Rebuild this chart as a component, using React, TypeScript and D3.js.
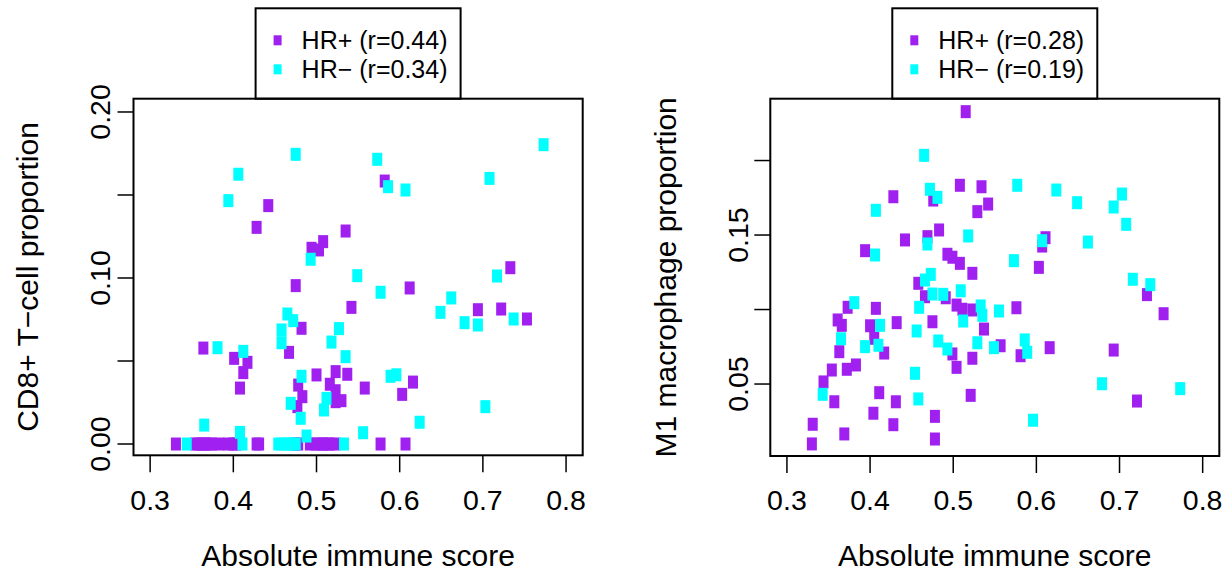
import React from "react";
import * as d3 from "d3";

// ---------- data ----------
const xTicks = [0.3, 0.4, 0.5, 0.6, 0.7, 0.8];

// Left panel: CD8+ T-cell proportion
const cd8PosX = [0.442,0.428,0.508,0.494,0.503,0.475,0.482,0.364,0.467,0.401,0.417,0.412,0.500,0.408,0.478,0.523,0.516,0.523,0.483,0.523,0.477,0.582,0.535,0.733,0.612,0.542,0.694,0.722,0.753,0.537,0.558,0.616,0.603,0.530,
  0.331,0.354,0.358,0.362,0.366,0.370,0.374,0.383,0.394,0.400,0.404,0.428,0.431,0.474,0.478,0.492,0.499,0.504,0.508,0.512,0.516,0.523,0.577,0.607];
const cd8PosY = [0.1436,0.1305,0.1219,0.1179,0.1169,0.0954,0.0697,0.0578,0.0552,0.0516,0.0492,0.0430,0.0416,0.0337,0.0355,0.0436,0.0360,0.0321,0.0285,0.0255,0.0225,0.1584,0.1283,0.1062,0.0940,0.0823,0.0809,0.0813,0.0753,0.0420,0.0337,0.0373,0.0299,0.0261,
  0,0,0,0,0,0,0,0,0,0,0,0,0,0,0,0,0,0,0,0,0,0,0,0];
const cd8NegX = [0.475,0.406,0.394,0.493,0.465,0.472,0.458,0.458,0.381,0.412,0.518,0.527,0.482,0.512,0.509,0.469,0.481,0.365,0.408,0.488,0.773,0.573,0.586,0.607,0.708,0.549,0.577,0.717,0.662,0.649,0.678,0.694,0.737,0.535,0.589,0.596,0.703,0.624,0.556,
  0.344,0.411,0.454,0.459,0.466,0.470,0.475,0.533];
const cd8NegY = [0.1745,0.1625,0.1466,0.1113,0.0783,0.0743,0.0687,0.0610,0.0580,0.0558,0.0614,0.0695,0.0408,0.0275,0.0205,0.0245,0.0155,0.0114,0.0070,0.0048,0.1803,0.1715,0.155,0.153,0.160,0.1014,0.0914,0.1012,0.088,0.0793,0.0731,0.0717,0.0753,0.0526,0.0408,0.0417,0.0225,0.0131,0.0068,
  0,0,0,0,0,0,0,0];
const cd8YTicks = [0, 0.05, 0.1, 0.15, 0.2];
const cd8YLabels = [0, 0.1, 0.2];

// Right panel: M1 macrophage proportion
const m1PosX = [0.515,0.508,0.428,0.476,0.483,0.442,0.469,0.394,0.493,0.499,0.508,0.458,0.466,0.491,0.373,0.407,0.361,0.366,0.400,0.432,0.475,0.504,0.511,0.405,0.363,0.417,0.499,0.504,0.354,0.372,0.383,0.344,0.411,0.357,0.431,0.404,0.331,0.428,0.478,0.369,0.330,0.478,0.534,0.542,0.529,0.611,0.607,0.523,0.603,0.523,0.576,0.537,0.557,0.523,0.581,0.616,0.693,0.733,0.753,0.521,0.721];
const m1PosY = [0.2328,0.1834,0.1757,0.1735,0.1534,0.1467,0.1489,0.1395,0.1371,0.1351,0.1310,0.1176,0.1086,0.1079,0.1015,0.1008,0.0930,0.0894,0.0891,0.0912,0.0918,0.1030,0.1002,0.0807,0.0717,0.0708,0.0702,0.0612,0.0594,0.0599,0.0628,0.0514,0.0442,0.0381,0.0381,0.0304,0.0230,0.0227,0.0283,0.0165,0.0098,0.0131,0.1824,0.1708,0.1657,0.1482,0.1426,0.1243,0.1283,0.0997,0.1012,0.0869,0.0757,0.0673,0.0690,0.0744,0.0728,0.1100,0.0972,0.0424,0.0386];
const m1NegX = [0.465,0.472,0.481,0.407,0.469,0.406,0.473,0.466,0.475,0.488,0.509,0.459,0.381,0.412,0.512,0.365,0.456,0.394,0.410,0.482,0.493,0.454,0.343,0.458,0.577,0.624,0.649,0.703,0.693,0.708,0.518,0.607,0.662,0.573,0.716,0.737,0.533,0.535,0.555,0.529,0.549,0.586,0.589,0.679,0.773,0.596];
const m1NegY = [0.2035,0.1807,0.1753,0.1666,0.1440,0.1366,0.1236,0.1198,0.1104,0.1102,0.1126,0.1015,0.1046,0.0894,0.0923,0.0804,0.0856,0.0751,0.0760,0.0789,0.0735,0.0572,0.0431,0.0400,0.1834,0.1802,0.1717,0.1775,0.1688,0.1572,0.1494,0.1462,0.1453,0.1328,0.1203,0.1167,0.1024,0.0961,0.0990,0.0777,0.0744,0.0796,0.0713,0.0502,0.0469,0.0257];
const m1YTicks = [0.05, 0.1, 0.15, 0.2];
const m1YLabels = [0.05, 0.15];

const seriesNames = ["HR+", "HR\u2212"];
const cd8R = ["0.44", "0.34"];
const m1R = ["0.28", "0.19"];
const xTitle = "Absolute immune score";
const cd8Title = "CD8+ T\u2212cell proportion";
const m1Title = "M1 macrophage proportion";

// ---------- style ----------
const PURPLE = "#A020F0";
const CYAN = "#00FFFF";
const FONT = "'Liberation Sans', Arial, Helvetica, sans-serif";
const AX_FS = 28.5;
const TITLE_FS = 30;
const LEG_FS = 25;

type PanelProps = {
  box: { x0: number; x1: number; y0: number; y1: number };
  yDomain: [number, number];
  posX: number[]; posY: number[]; negX: number[]; negY: number[];
  yTicks: number[]; yLabels: number[]; yFmt: (v: number) => string;
  yTitle: string; rVals: string[];
  yLabelX: number; yTitleX: number;
};

function Panel(p: PanelProps) {
  const { box } = p;
  const x = d3.scaleLinear().domain([0.28, 0.82]).range([box.x0, box.x1]);
  const y = d3.scaleLinear().domain(p.yDomain).range([box.y1, box.y0]);
  const cx = (box.x0 + box.x1) / 2;
  const cy = (box.y0 + box.y1) / 2;
  const pw = 10, ph = 13;
  const legW = 205;
  const legX0 = cx - legW / 2;
  const legY0 = 8.3;
  const pts = (xs: number[], ys: number[], col: string) =>
    xs.map((v, i) => (
      <rect key={i} x={x(v) - pw / 2} y={y(ys[i]) - ph / 2} width={pw} height={ph} fill={col} />
    ));
  return (
    <g fontFamily={FONT}>
      {/* legend */}
      <rect x={legX0} y={legY0} width={legW} height={box.y0 - legY0} fill="white" stroke="black" strokeWidth={2} />
      {[PURPLE, CYAN].map((c, i) => (
        <g key={i}>
          <rect x={legX0 + 18} y={legY0 + 27 + i * 29} width={8} height={10} fill={c} />
          <text x={legX0 + 46} y={legY0 + 32 + i * 29} dy="0.35em" fontSize={LEG_FS} fill="black">
            {`${seriesNames[i]} (r=${p.rVals[i]})`}
          </text>
        </g>
      ))}
      {/* points */}
      {pts(p.posX, p.posY, PURPLE)}
      {pts(p.negX, p.negY, CYAN)}
      {/* box */}
      <rect x={box.x0} y={box.y0} width={box.x1 - box.x0} height={box.y1 - box.y0} fill="none" stroke="black" strokeWidth={2} />
      {/* x axis */}
      {xTicks.map((t) => (
        <g key={t}>
          <line x1={x(t)} x2={x(t)} y1={box.y1} y2={box.y1 + 17} stroke="black" strokeWidth={1.5} />
          <text x={x(t)} y={510} textAnchor="middle" fontSize={AX_FS}>{t.toFixed(1)}</text>
        </g>
      ))}
      <text x={cx} y={566} textAnchor="middle" fontSize={TITLE_FS}>{xTitle}</text>
      {/* y axis */}
      {p.yTicks.map((t) => (
        <line key={t} x1={box.x0 - 16} x2={box.x0} y1={y(t)} y2={y(t)} stroke="black" strokeWidth={1.5} />
      ))}
      {p.yLabels.map((t) => (
        <text key={t} transform={`translate(${p.yLabelX},${y(t)}) rotate(-90)`} textAnchor="middle" fontSize={AX_FS}>
          {p.yFmt(t)}
        </text>
      ))}
      <text transform={`translate(${p.yTitleX},${cy}) rotate(-90)`} textAnchor="middle" fontSize={TITLE_FS}>
        {p.yTitle}
      </text>
    </g>
  );
}

export default function App() {
  const fmt2 = (v: number) => v.toFixed(2);
  return (
    <svg width={1231} height={577} style={{ position: "absolute", left: 0, top: 0, background: "white" }}>
      <rect x={0} y={0} width={1231} height={577} fill="white" />
      <Panel
        box={{ x0: 133.5, x1: 582.7, y0: 98.7, y1: 455.3 }}
        yDomain={[-0.0068, 0.208]}
        posX={cd8PosX} posY={cd8PosY} negX={cd8NegX} negY={cd8NegY}
        yTicks={cd8YTicks} yLabels={cd8YLabels} yFmt={fmt2}
        yTitle={cd8Title} rVals={cd8R}
        yLabelX={110} yTitleX={38}
      />
      <Panel
        box={{ x0: 770.3, x1: 1219.3, y0: 98.7, y1: 456 }}
        yDomain={[0.0017, 0.2415]}
        posX={m1PosX} posY={m1PosY} negX={m1NegX} negY={m1NegY}
        yTicks={m1YTicks} yLabels={m1YLabels} yFmt={fmt2}
        yTitle={m1Title} rVals={m1R}
        yLabelX={748} yTitleX={676}
      />
    </svg>
  );
}
